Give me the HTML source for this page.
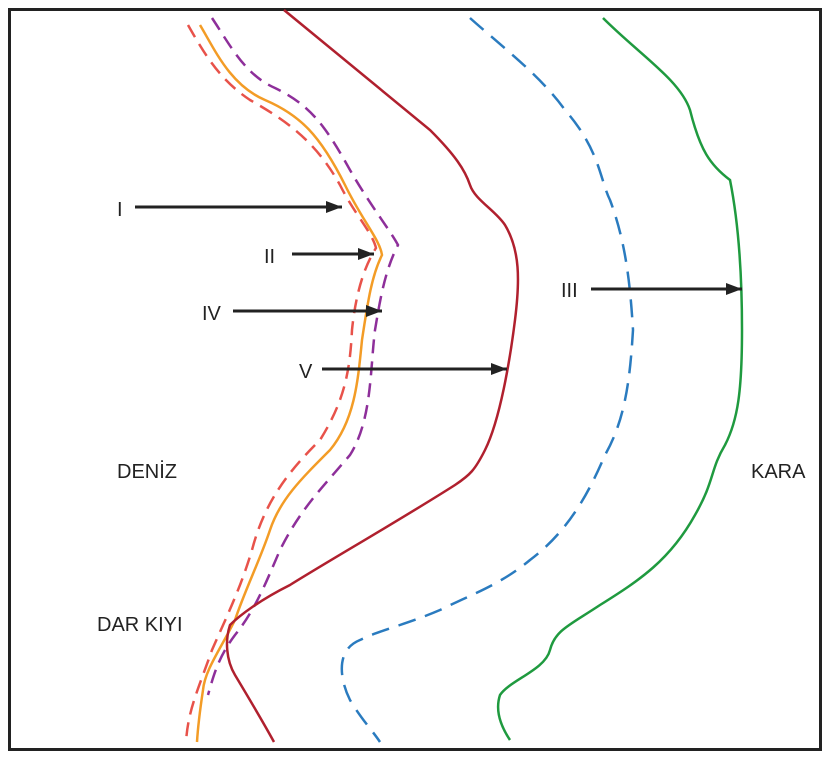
<!DOCTYPE html>
<html><head><meta charset="utf-8"><style>
html,body{margin:0;padding:0;background:#fff;}
svg{display:block;}
text{font-family:"Liberation Sans",sans-serif;font-size:20px;fill:#222;}
</style></head><body>
<svg width="829" height="759" viewBox="0 0 829 759" xmlns="http://www.w3.org/2000/svg">
<defs><marker id="a" markerWidth="10" markerHeight="10" refX="9" refY="5" orient="auto" markerUnits="userSpaceOnUse"><path d="M0,0 L18,5 L0,10 Z" fill="#222" transform="scale(0.55,1)"/></marker>
<marker id="b" viewBox="0 0 16 12" markerWidth="16" markerHeight="12" refX="16" refY="6" orient="auto" markerUnits="userSpaceOnUse"><path d="M0,0 L16,6 L0,12 Z" fill="#222"/></marker></defs>
<rect x="9.5" y="9.5" width="811" height="740" fill="none" stroke="#222" stroke-width="3"/>
<g fill="none" stroke-width="2.5">
<path d="M188,25 C205,55 220,80 250,100 C285,120 315,140 340,185 C355,215 372,232 376,248 C362,270 355,300 352,330 C350,370 345,400 320,440 C290,470 265,500 252,550 C240,590 225,620 212,650 C198,690 188,710 186,742" stroke="#e8524a" stroke-dasharray="14,8"/>
<path d="M200,25 C215,50 230,85 265,100 C300,115 320,135 345,185 C362,220 380,240 382,255 C372,275 368,300 362,340 C358,380 355,420 330,450 C300,480 280,500 270,530 C260,560 245,590 235,620 C220,650 205,670 203,690 C200,710 198,725 197,742" stroke="#f39c26"/>
<path d="M212,18 C230,45 245,75 275,88 C310,105 325,125 350,170 C370,205 390,230 398,245 C385,270 380,300 375,330 C370,370 372,420 350,455 C320,490 300,510 280,550 C265,585 255,610 235,635 C220,655 215,670 208,695" stroke="#8e2f9a" stroke-dasharray="14,8"/>
<path d="M284,10 L430,130 C455,155 465,170 470,185 C475,200 495,210 505,225 C520,250 520,280 515,320 C510,360 500,420 485,450 C475,470 470,475 455,485 C400,520 330,560 290,585 C260,600 240,615 230,625 C225,640 226,660 235,675 C250,700 262,720 274,742" stroke="#b0202e"/>
<path d="M470,18 C500,45 540,75 565,110 C600,150 600,180 610,200 C625,240 630,280 633,330 C630,380 625,420 605,455 C590,490 570,530 530,560 C500,585 470,595 440,610 C405,625 380,630 360,640 C335,650 340,680 350,700 C362,720 372,730 380,742" stroke="#2a7bbf" stroke-dasharray="18,10"/>
<path d="M603,18 C640,55 680,80 690,110 C700,150 710,165 730,180 C740,230 742,290 742,330 C742,390 738,420 725,445 C710,470 715,480 695,515 C670,560 640,580 600,605 C570,625 555,630 550,650 C545,670 510,680 500,695 C495,710 500,725 510,740" stroke="#1f9a3f"/>
</g>
<g stroke="#222" stroke-width="3" fill="none">
<line x1="135" y1="207" x2="342" y2="207" marker-end="url(#b)"/>
<line x1="292" y1="254" x2="374" y2="254" marker-end="url(#b)"/>
<line x1="233" y1="311" x2="382" y2="311" marker-end="url(#b)"/>
<line x1="322" y1="369" x2="507" y2="369" marker-end="url(#b)"/>
<line x1="591" y1="289" x2="742" y2="289" marker-end="url(#b)"/>
</g>
<text x="117" y="216">I</text>
<text x="264" y="263">II</text>
<text x="202" y="320">IV</text>
<text x="299" y="378">V</text>
<text x="561" y="297">III</text>
<text x="117" y="478">DENİZ</text>
<text x="751" y="478">KARA</text>
<text x="97" y="631">DAR KIYI</text>
</svg>
</body></html>
